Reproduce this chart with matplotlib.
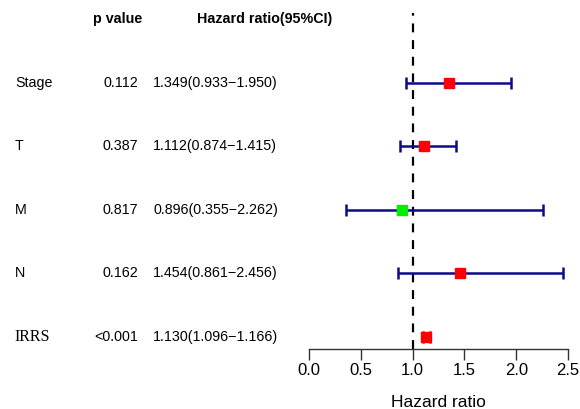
import matplotlib
matplotlib.use("Agg")
import matplotlib.pyplot as plt
import matplotlib.transforms as mtransforms

# forest plot data (top to bottom)
variables = ["Stage", "T", "M", "N", "IRRS"]
p_values  = ["0.112", "0.387", "0.817", "0.162", "<0.001"]
hr        = [1.349, 1.112, 0.896, 1.454, 1.130]
ci_low    = [0.933, 0.874, 0.355, 0.861, 1.096]
ci_high   = [1.950, 1.415, 2.262, 2.456, 1.166]
ticks     = [0.0, 0.5, 1.0, 1.5, 2.0, 2.5]

W, H = 580, 409
fig = plt.figure(figsize=(W / 100, H / 100), dpi=100)
ax = fig.add_axes([309 / W, 1 - 349 / H, 259 / W, 336 / H])

n = len(variables)
ypos = list(range(n, 0, -1))
ax.set_xlim(0, 2.5)
ax.set_ylim(0.811, 6.102)

ax.axvline(1.0, color="black", lw=1.6, ls=(0, (4, 3.5)), zorder=1)

for y, h, lo, hi in zip(ypos, hr, ci_low, ci_high):
    ax.errorbar(h, y, xerr=[[h - lo], [hi - h]], fmt="none", ecolor="#0a0a8c",
                elinewidth=1.8, capsize=4.5, capthick=1.8, zorder=2, clip_on=False)
    color = "#00ee00" if h < 1 else "#ff0000"
    ax.plot(h, y, marker="s", ms=7.5, color=color, mec=color, zorder=3,
            clip_on=False)

for s in ["top", "right", "left"]:
    ax.spines[s].set_visible(False)
ax.spines["bottom"].set_color("#333333")
ax.spines["bottom"].set_linewidth(1.0)
ax.set_yticks([])
ax.set_xticks(ticks)
ax.set_xticklabels([f"{t:.1f}" for t in ticks], fontsize=12,
                   family="Liberation Sans")
ax.tick_params(axis="x", length=8, width=1.0, color="#333333", pad=2)
ax.set_xlabel("Hazard ratio", fontsize=12.5, family="Liberation Sans", labelpad=12)

trans = mtransforms.blended_transform_factory(fig.transFigure, ax.transData)
txt = dict(transform=trans, va="center", fontsize=10.3, family="Liberation Sans")

ax.text(93 / W, 6.0, "p value", fontweight="bold", ha="left", **txt)
ax.text(197 / W, 6.0, "Hazard ratio(95%CI)", fontweight="bold", ha="left", **txt)

for y, name, p, h, lo, hi in zip(ypos, variables, p_values, hr, ci_low, ci_high):
    if name == "IRRS":
        ax.text(14 / W, y, name, transform=trans, va="center", ha="left",
                fontsize=11.5, family="Liberation Serif")
    else:
        ax.text(15 / W, y, name, ha="left", **txt)
    ax.text(138 / W, y, p, ha="right", **txt)
    ax.text(153 / W, y, f"{h:.3f}({lo:.3f}\u2212{hi:.3f})", ha="left", **txt)

fig.savefig("out.png", dpi=100)
